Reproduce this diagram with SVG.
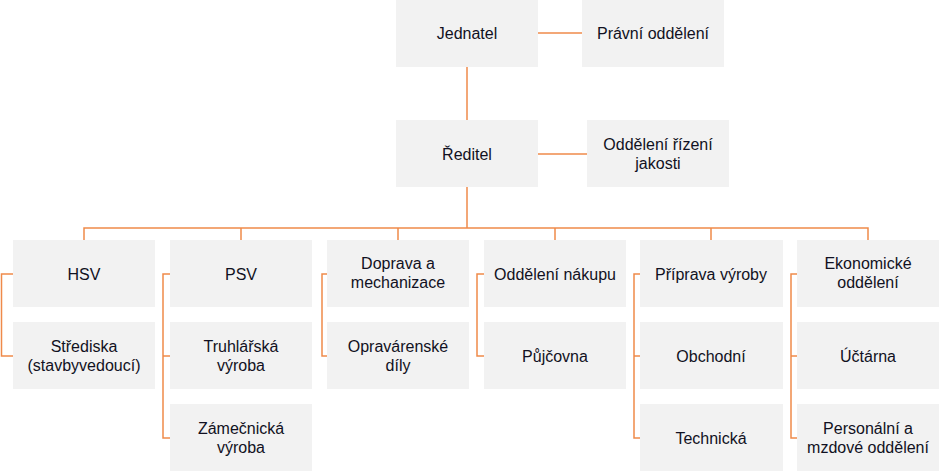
<svg xmlns="http://www.w3.org/2000/svg" width="940" height="472" viewBox="0 0 940 472">
<style>
.box{fill:#f2f2f2}
.t{font-family:"Liberation Sans",Arial,sans-serif;font-size:16px;fill:#111122;text-anchor:middle}
.c{fill:none;stroke:#ef8a4a;stroke-width:1.5}
</style>
<rect width="940" height="472" fill="#ffffff"/>
<g id="connectors">
<path class="c" d="M538 33H582"/>
<path class="c" d="M467 67V120"/>
<path class="c" d="M538 154H587"/>
<path class="c" d="M467 187V228"/>
<path class="c" d="M84 240V228H868V240"/>
<path class="c" d="M241 228V240M398 228V240M555 228V240M711 228V240"/>
<path class="c" d="M13 274H1.5V356H13"/>
<path class="c" d="M170 274H163V438H170M163 356H170"/>
<path class="c" d="M327 274H322V356H327"/>
<path class="c" d="M484 274H477V356H484"/>
<path class="c" d="M640 274H634V438H640M634 356H640"/>
<path class="c" d="M797 274H791V438H797M791 356H797"/>
</g>
<g id="jednatel"><rect class="box" x="396" y="0" width="142" height="67"/><text class="t" x="467" y="39">Jednatel</text></g>
<g id="pravni"><rect class="box" x="582" y="0" width="142" height="67"/><text class="t" x="653" y="39">Právní oddělení</text></g>
<g id="reditel"><rect class="box" x="396" y="120" width="142" height="67"/><text class="t" x="467" y="160">Ředitel</text></g>
<g id="jakost"><rect class="box" x="587" y="120" width="142" height="67"/><text class="t" x="658" y="150">Oddělení řízení</text><text class="t" x="658" y="169">jakosti</text></g>

<g id="hsv"><rect class="box" x="13" y="240" width="142" height="67"/><text class="t" x="84" y="280">HSV</text></g>
<g id="strediska"><rect class="box" x="13" y="322" width="142" height="67"/><text class="t" x="84" y="352">Střediska</text><text class="t" x="84" y="371">(stavbyvedoucí)</text></g>

<g id="psv"><rect class="box" x="170" y="240" width="142" height="67"/><text class="t" x="241" y="280">PSV</text></g>
<g id="truhlarska"><rect class="box" x="170" y="322" width="142" height="67"/><text class="t" x="241" y="352">Truhlářská</text><text class="t" x="241" y="371">výroba</text></g>
<g id="zamecnicka"><rect class="box" x="170" y="404" width="142" height="67"/><text class="t" x="241" y="434">Zámečnická</text><text class="t" x="241" y="453">výroba</text></g>

<g id="doprava"><rect class="box" x="327" y="240" width="142" height="67"/><text class="t" x="398" y="269">Doprava a</text><text class="t" x="398" y="288">mechanizace</text></g>
<g id="opravarenske"><rect class="box" x="327" y="322" width="142" height="67"/><text class="t" x="398" y="352">Opravárenské</text><text class="t" x="398" y="371">díly</text></g>

<g id="nakup"><rect class="box" x="484" y="240" width="142" height="67"/><text class="t" x="555" y="280">Oddělení nákupu</text></g>
<g id="pujcovna"><rect class="box" x="484" y="322" width="142" height="67"/><text class="t" x="555" y="362">Půjčovna</text></g>

<g id="priprava"><rect class="box" x="640" y="240" width="143" height="67"/><text class="t" x="711" y="280">Příprava výroby</text></g>
<g id="obchodni"><rect class="box" x="640" y="322" width="143" height="67"/><text class="t" x="711" y="362">Obchodní</text></g>
<g id="technicka"><rect class="box" x="640" y="404" width="143" height="67"/><text class="t" x="711" y="444">Technická</text></g>

<g id="ekonomicke"><rect class="box" x="797" y="240" width="142" height="67"/><text class="t" x="868" y="269">Ekonomické</text><text class="t" x="868" y="288">oddělení</text></g>
<g id="uctarna"><rect class="box" x="797" y="322" width="142" height="67"/><text class="t" x="868" y="362">Účtárna</text></g>
<g id="personalni"><rect class="box" x="797" y="404" width="142" height="67"/><text class="t" x="868" y="434">Personální a</text><text class="t" x="868" y="453">mzdové oddělení</text></g>
</svg>
